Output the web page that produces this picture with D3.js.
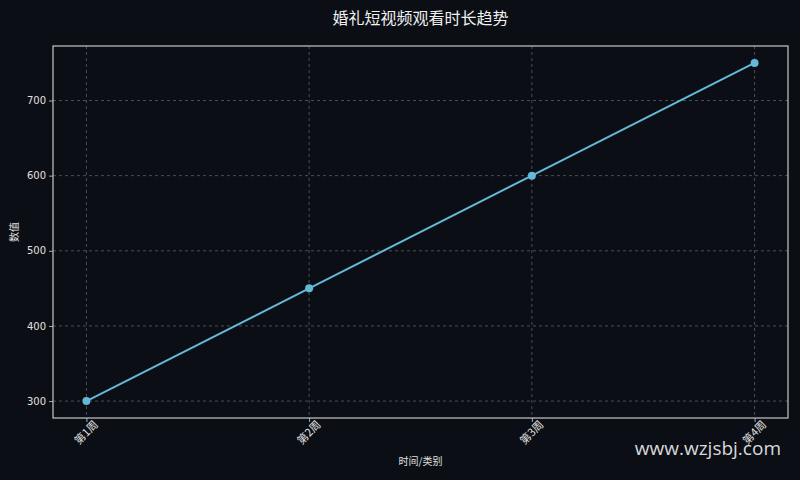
<!DOCTYPE html>
<html><head><meta charset="utf-8">
<script src="https://cdn.jsdelivr.net/npm/d3@7"></script>
<style>html,body{margin:0;padding:0;background:#0b0e14;}svg{display:block;}</style>
</head><body>
<svg id="c" width="800" height="480"></svg>
<script>
const categories = ["第1周", "第2周", "第3周", "第4周"];
const values = [300, 450, 600, 750];
const yTicks = [300, 400, 500, 600, 700];
const title = "婚礼短视频观看时长趋势";
const xLabel = "时间/类别";
const yLabel = "数值";

const W = 800, H = 480;
const m = {left: 53, right: 12, top: 46, bottom: 62};
const svg = d3.select("#c");
const font = "'Noto Sans CJK SC', 'DejaVu Sans', sans-serif";
const numFont = "'DejaVu Sans', sans-serif";
svg.append("rect").attr("width", W).attr("height", H).attr("fill", "#0b0e14");

const x = d3.scaleLinear().domain([-0.15, categories.length - 1 + 0.15]).range([m.left, W - m.right]);
const y = d3.scaleLinear().domain([277.5, 772.5]).range([H - m.bottom, m.top]);

const g = svg.append("g");
// grid
g.selectAll(".gx").data(categories).enter().append("line")
  .attr("x1", (d,i)=>x(i)).attr("x2", (d,i)=>x(i))
  .attr("y1", m.top).attr("y2", H - m.bottom)
  .attr("stroke", "#5a5f66").attr("stroke-width", 0.8).attr("stroke-dasharray", "3,3");
g.selectAll(".gy").data(yTicks).enter().append("line")
  .attr("x1", m.left).attr("x2", W - m.right)
  .attr("y1", d=>y(d)).attr("y2", d=>y(d))
  .attr("stroke", "#5a5f66").attr("stroke-width", 0.8).attr("stroke-dasharray", "3,3");

// axes
const xAxis = d3.axisBottom(x).tickValues(d3.range(categories.length)).tickFormat(i=>categories[i]).tickSize(4).tickPadding(3);
const yAxis = d3.axisLeft(y).tickValues(yTicks).tickSize(4).tickPadding(3);
const gx = svg.append("g").attr("transform", `translate(0,${H - m.bottom})`).call(xAxis);
const gy = svg.append("g").attr("transform", `translate(${m.left},0)`).call(yAxis);
[gx, gy].forEach(a => {
  a.select(".domain").remove();
  a.selectAll(".tick line").attr("stroke", "#d0d0d0").attr("stroke-width", 0.8);
  a.selectAll(".tick text").attr("fill", "#e0e0e0").attr("font-size", 10).attr("font-family", font);
});
gy.selectAll(".tick text").attr("font-family", numFont);
gx.selectAll(".tick text")
  .attr("font-size", 11)
  .attr("text-anchor", "end").attr("dx", "0.3em").attr("dy", "0.6em")
  .attr("transform", "rotate(-45)");

// frame
svg.append("rect").attr("x", m.left).attr("y", m.top)
  .attr("width", W - m.left - m.right).attr("height", H - m.top - m.bottom)
  .attr("fill", "none").attr("stroke", "#c8c8c8").attr("stroke-width", 1.2);

// line
const line = d3.line().x((d,i)=>x(i)).y(d=>y(d));
svg.append("path").datum(values).attr("d", line)
  .attr("fill", "none").attr("stroke", "#64b8d8").attr("stroke-width", 2);
svg.selectAll(".pt").data(values).enter().append("circle")
  .attr("cx", (d,i)=>x(i)).attr("cy", d=>y(d)).attr("r", 4).attr("fill", "#64b8d8");

// titles
svg.append("text").attr("x", (m.left + W - m.right)/2).attr("y", 24).attr("text-anchor", "middle")
  .attr("fill", "#f0f0f0").attr("font-size", 16).attr("font-family", font).text(title);
svg.append("text").attr("x", (m.left + W - m.right)/2).attr("y", 465).attr("text-anchor", "middle")
  .attr("fill", "#e0e0e0").attr("font-size", 10).attr("font-family", font).text(xLabel);
svg.append("text").attr("transform", `translate(18,${(m.top + H - m.bottom)/2}) rotate(-90)`)
  .attr("text-anchor", "middle").attr("fill", "#e0e0e0").attr("font-size", 10).attr("font-family", font).text(yLabel);

// watermark
svg.append("text").attr("x", 781).attr("y", 455).attr("text-anchor", "end")
  .attr("fill", "#ffffff").attr("fill-opacity", 0.85).attr("font-size", 19).attr("font-family", "'Open Sans', 'DejaVu Sans', sans-serif").text("www.wzjsbj.com");
</script>
</body></html>
